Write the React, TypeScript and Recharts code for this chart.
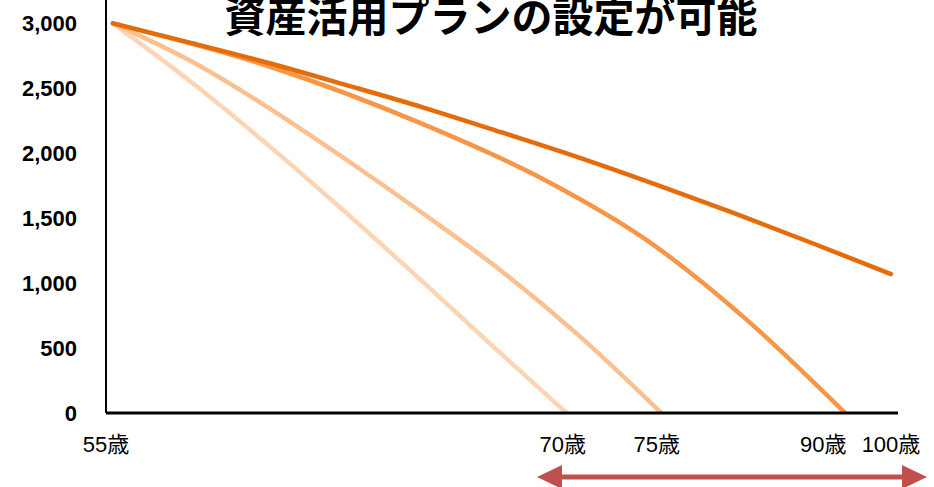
import React from "react";
import { LineChart, Line, XAxis, YAxis } from "recharts";

// timeline position (0 = 55歳 start, 100 = 100歳 end) and asset balance
const lightT = [0, 10, 20, 30, 40, 50, 58.3];
const lightV = [3000, 2550, 2060, 1540, 1000, 450, 0];

const paleT = [0, 10, 20, 30, 40, 50, 60, 70.5];
const paleV = [3000, 2710, 2350, 1950, 1530, 1090, 590, 0];

const midT = [0, 20, 40, 55, 68.6, 81.5, 94.1];
const midV = [3000, 2670, 2220, 1810, 1331, 715, 0];

const darkT = [0, 10, 20, 30, 40, 50, 60, 70, 80, 90, 100];
const darkV = [3000, 2850, 2695, 2525, 2350, 2160, 1965, 1755, 1535, 1305, 1070];

const xTickPos = [-0.9, 57.8, 69.9, 91.3, 100];
const xTickLabels = ["55歳", "70歳", "75歳", "90歳", "100歳"];
const yTicks = [0, 500, 1000, 1500, 2000, 2500, 3000];

const toRows = (t: number[], v: number[]) => t.map((x, i) => ({ t: x, v: v[i] }));

const series = [
  { key: "light", data: toRows(lightT, lightV), color: "#fcd5b5" },
  { key: "pale", data: toRows(paleT, paleV), color: "#fac090" },
  { key: "mid", data: toRows(midT, midV), color: "#f79646" },
  { key: "dark", data: toRows(darkT, darkV), color: "#e46c0a" },
];

const XTick = (props: any) => {
  const i = xTickPos.indexOf(props.payload.value);
  return (
    <text
      x={props.x}
      y={444}
      textAnchor="middle"
      dominantBaseline="central"
      fontSize={22}
      fontFamily="'Liberation Sans', 'Noto Sans CJK JP', sans-serif"
      fill="#000"
    >
      {xTickLabels[i]}
    </text>
  );
};

const YTick = (props: any) => (
  <text
    x={77}
    y={props.y}
    textAnchor="end"
    dominantBaseline="central"
    fontSize={22}
    fontWeight="bold"
    fontFamily="'Liberation Sans', Arial, sans-serif"
    fill="#000"
  >
    {Number(props.payload.value).toLocaleString("en-US")}
  </text>
);

export default function App() {
  return (
    <div style={{ position: "absolute", left: 0, top: 0, width: 934, height: 487, background: "#fff" }}>
      <LineChart width={934} height={487} margin={{ top: 0, right: 36, bottom: 0, left: 0 }}>
        <XAxis
          type="number"
          dataKey="t"
          domain={[-0.9, 100.9]}
          ticks={xTickPos}
          interval={0}
          allowDataOverflow
          height={74}
          tickLine={false}
          axisLine={{ stroke: "#000", strokeWidth: 3 }}
          tick={<XTick />}
        />
        <YAxis
          type="number"
          domain={[0, 3180]}
          ticks={yTicks}
          interval={0}
          allowDataOverflow
          width={106}
          tickLine={false}
          axisLine={{ stroke: "#000", strokeWidth: 2 }}
          tick={<YTick />}
        />
        {series.map((s) => (
          <Line
            key={s.key}
            data={s.data}
            dataKey="v"
            type="monotone"
            stroke={s.color}
            strokeWidth={4.5}
            strokeLinecap="round"
            dot={false}
            activeDot={false}
            isAnimationActive={false}
          />
        ))}
      </LineChart>
      <svg
        width={934}
        height={487}
        style={{ position: "absolute", left: 0, top: 0, pointerEvents: "none" }}
      >
        <text
          x={491}
          y={32}
          textAnchor="middle"
          fontSize={41}
          fontWeight="bold"
          fontFamily="'Noto Sans CJK JP', sans-serif"
          fill="#000"
        >
          資産活用プランの設定が可能
        </text>
        <line x1={555} y1={477} x2={910} y2={477} stroke="#c0504d" strokeWidth={5} />
        <polygon points="537,477 562,465 562,489" fill="#c0504d" />
        <polygon points="927,477 902,465 902,489" fill="#c0504d" />
      </svg>
    </div>
  );
}
